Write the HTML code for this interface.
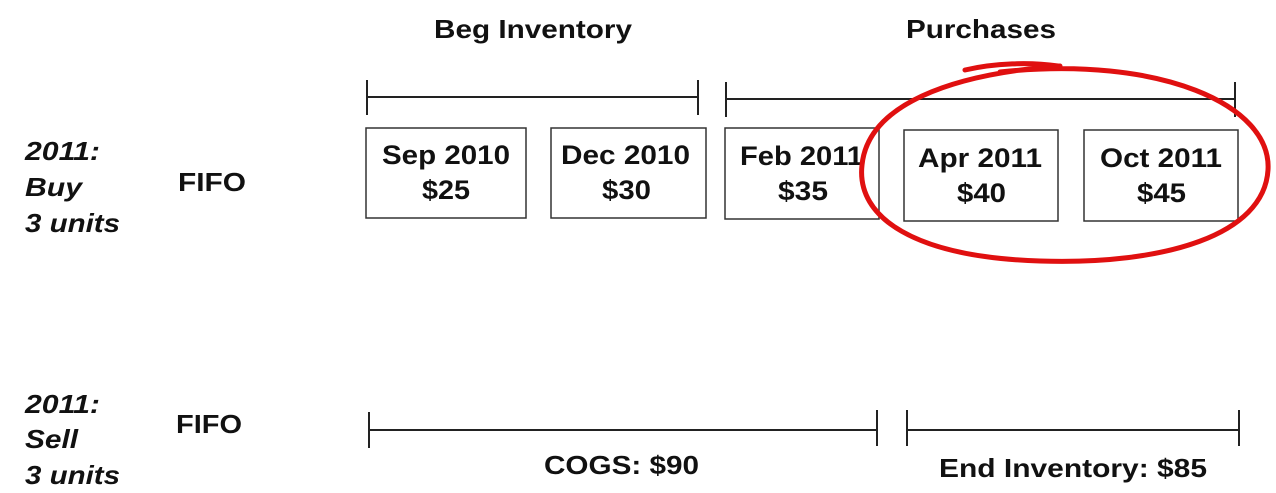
<!DOCTYPE html>
<html><head><meta charset="utf-8"><style>
html,body{margin:0;padding:0;background:#fff;}
svg{display:block;font-family:"Liberation Sans",Arial,sans-serif;font-weight:bold;fill:#111;}
</style></head><body>
<svg width="1276" height="493" viewBox="0 0 1276 493">
<rect width="1276" height="493" fill="#fff"/>
<g font-size="26" lengthAdjust="spacingAndGlyphs">
<text x="434" y="38" textLength="198" lengthAdjust="spacingAndGlyphs">Beg Inventory</text>
<text x="906" y="38" textLength="150" lengthAdjust="spacingAndGlyphs">Purchases</text>
</g>
<g stroke="#222" stroke-width="2" fill="none">
<g><line x1="366" y1="97" x2="699" y2="97"/><line x1="367" y1="80" x2="367" y2="115"/><line x1="698" y1="80" x2="698" y2="115"/></g>
<g><line x1="725" y1="99" x2="1236" y2="99"/><line x1="726" y1="82" x2="726" y2="117"/><line x1="1235" y1="82" x2="1235" y2="117"/></g>
<g><line x1="368" y1="430" x2="878" y2="430"/><line x1="369" y1="412" x2="369" y2="448"/><line x1="877" y1="410" x2="877" y2="446"/></g>
<g><line x1="906" y1="430" x2="1240" y2="430"/><line x1="907" y1="410" x2="907" y2="446"/><line x1="1239" y1="410" x2="1239" y2="446"/></g>
</g>
<g stroke="#333" stroke-width="1.5" fill="#fff">
<rect x="366" y="128" width="160" height="90"/>
<rect x="551" y="128" width="155" height="90"/>
<rect x="725" y="128" width="154" height="91"/>
<rect x="904" y="130" width="154" height="91"/>
<rect x="1084" y="130" width="154" height="91"/>
</g>
<g font-size="27">
<text x="382" y="164" textLength="128" lengthAdjust="spacingAndGlyphs">Sep 2010</text><text x="422" y="199" textLength="48" lengthAdjust="spacingAndGlyphs">$25</text>
<text x="561" y="164" textLength="129" lengthAdjust="spacingAndGlyphs">Dec 2010</text><text x="602" y="199" textLength="49" lengthAdjust="spacingAndGlyphs">$30</text>
<text x="740" y="165" textLength="123" lengthAdjust="spacingAndGlyphs">Feb 2011</text><text x="778" y="200" textLength="50" lengthAdjust="spacingAndGlyphs">$35</text>
<text x="918" y="167" textLength="124" lengthAdjust="spacingAndGlyphs">Apr 2011</text><text x="957" y="202" textLength="49" lengthAdjust="spacingAndGlyphs">$40</text>
<text x="1100" y="167" textLength="122" lengthAdjust="spacingAndGlyphs">Oct 2011</text><text x="1137" y="202" textLength="49" lengthAdjust="spacingAndGlyphs">$45</text>
</g>
<g font-size="26" font-style="italic">
<text x="25" y="160" textLength="75" lengthAdjust="spacingAndGlyphs">2011:</text><text x="25" y="196" textLength="57" lengthAdjust="spacingAndGlyphs">Buy</text><text x="25" y="232" textLength="95" lengthAdjust="spacingAndGlyphs">3 units</text>
</g>
<g font-size="26" font-style="italic">
<text x="25" y="413" textLength="75" lengthAdjust="spacingAndGlyphs">2011:</text><text x="25" y="448" textLength="53" lengthAdjust="spacingAndGlyphs">Sell</text><text x="25" y="484" textLength="95" lengthAdjust="spacingAndGlyphs">3 units</text>
</g>
<text x="178" y="191" font-size="26" textLength="68" lengthAdjust="spacingAndGlyphs">FIFO</text>
<text x="176" y="433" font-size="26" textLength="66" lengthAdjust="spacingAndGlyphs">FIFO</text>
<text x="544" y="474" font-size="26" textLength="155" lengthAdjust="spacingAndGlyphs">COGS: $90</text>
<text x="939" y="477" font-size="26" textLength="268" lengthAdjust="spacingAndGlyphs">End Inventory: $85</text>
<g fill="none" stroke="#e01010" stroke-width="5" stroke-linecap="round">
<path d="M1000,72 C1160,55 1272,105 1268,170 C1264,235 1165,265 1040,261 C915,257 856,218 862,165 C868,105 950,74 1060,66"/>
<path d="M965,70 C995,63 1030,62 1058,66"/>
</g>
</svg>
</body></html>
